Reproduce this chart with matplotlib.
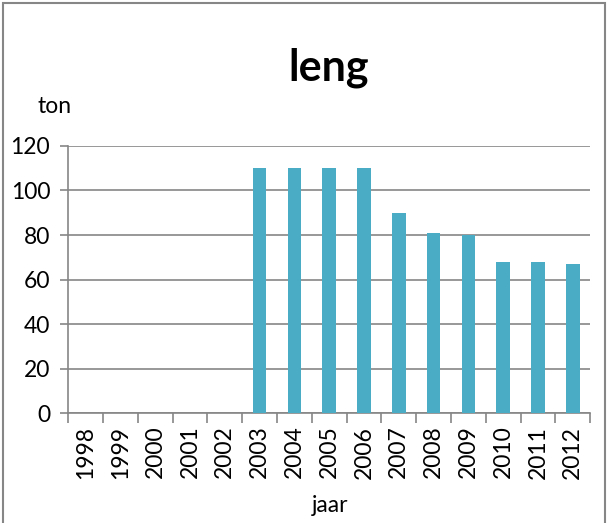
import matplotlib.pyplot as plt
import numpy as np
from matplotlib.patches import Rectangle

plt.rcParams['font.family'] = ['Lato', 'DejaVu Sans']

years = ['1998', '1999', '2000', '2001', '2002', '2003', '2004', '2005',
         '2006', '2007', '2008', '2009', '2010', '2011', '2012']
tons = [0, 0, 0, 0, 0, 110, 110, 110, 110, 90, 81, 80, 68, 68, 67]

fig = plt.figure(figsize=(6.09, 5.23), dpi=100)
ax = fig.add_axes([0.112, 0.210, 0.857, 0.511])

x = np.arange(len(years))
ax.bar(x, tons, width=0.39, color='#4BACC6', zorder=3)

ax.set_xlim(-0.5, len(years) - 0.5)
ax.set_ylim(0, 120)
ax.set_yticks(np.arange(0, 121, 20))
ax.yaxis.grid(True, color='#868686', linewidth=1.2, zorder=0)

ax.set_xticks(x)
ax.set_xticklabels(years, rotation=90, fontsize=16.5)
ax.set_xticks(np.arange(-0.5, len(years), 1), minor=True)
ax.tick_params(axis='x', which='major', length=0, pad=9)
ax.tick_params(axis='x', which='minor', length=7, color='#868686', width=1.2)
ax.tick_params(axis='y', length=6, color='#868686', width=1.2, labelsize=16.5, pad=7)

for s in ['top', 'right']:
    ax.spines[s].set_visible(False)
for s in ['left', 'bottom']:
    ax.spines[s].set_color('#868686')
    ax.spines[s].set_linewidth(1.2)

fig.text(0.540, 0.87, 'leng', fontsize=31, fontweight='bold', ha='center', va='center')
fig.text(0.090, 0.796, 'ton', fontsize=16.5, ha='center', va='center')
fig.text(0.542, 0.033, 'jaar', fontsize=16.5, ha='center', va='center')

fig.patches.append(Rectangle((0.005, -0.01), 0.988, 1.005, transform=fig.transFigure,
                             fill=False, edgecolor='#868686', linewidth=1.5))

plt.savefig('out.png')
